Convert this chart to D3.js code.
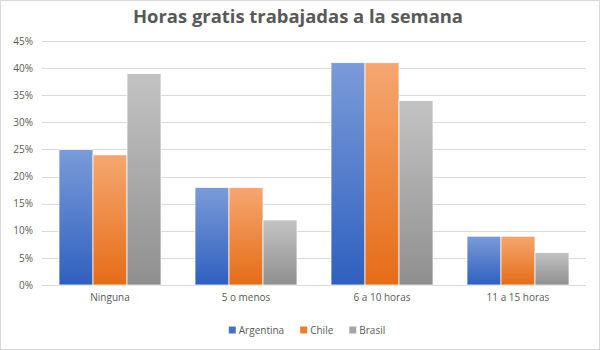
<!DOCTYPE html>
<html><head><meta charset="utf-8">
<script src="https://cdn.jsdelivr.net/npm/d3@7"></script>
<style>
html,body{margin:0;padding:0;background:#fff;}
svg{display:block;font-family:"Open Sans",sans-serif;}
</style></head>
<body>
<svg id="c" width="600" height="350"></svg>
<script>
const title = "Horas gratis trabajadas a la semana";
const categories = ["Ninguna", "5 o menos", "6 a 10 horas", "11 a 15 horas"];
const seriesNames = ["Argentina", "Chile", "Brasil"];
const argentina = [25, 18, 41, 9];
const chile = [24, 18, 41, 9];
const brasil = [39, 12, 34, 6];
const yTicks = [0, 5, 10, 15, 20, 25, 30, 35, 40, 45];

const seriesValues = [argentina, chile, brasil];
const gradTop = ["#7b9bd8", "#f5a771", "#c3c3c3"];
const gradBot = ["#2f60bf", "#e56c16", "#8f8f8f"];
const legendColor = ["#4472c4", "#ed7d31", "#a5a5a5"];

const svg = d3.select("#c");
const W = 600, H = 350;
const m = {left: 42, right: 14, top: 41, bottom: 65};

svg.append("rect").attr("x",0.5).attr("y",0.5).attr("width",W-1).attr("height",H-1)
  .attr("fill","#fff").attr("stroke","#d9d9d9");

const defs = svg.append("defs");
seriesNames.forEach((s,i)=>{
  const g = defs.append("linearGradient").attr("id","g"+i)
    .attr("x1",0).attr("y1",0).attr("x2",0).attr("y2",1);
  g.append("stop").attr("offset","0%").attr("stop-color",gradTop[i]);
  g.append("stop").attr("offset","100%").attr("stop-color",gradBot[i]);
});

const x0 = d3.scaleBand().domain(categories).range([m.left, W - m.right]).paddingInner(0.25).paddingOuter(0.125);
const x1 = d3.scaleBand().domain(seriesNames).range([0, x0.bandwidth()]);
const y = d3.scaleLinear().domain([0,45]).range([H - m.bottom, m.top]);

// gridlines
const grid = svg.append("g");
yTicks.forEach(t=>{
  grid.append("line").attr("x1",m.left).attr("x2",W-m.right)
    .attr("y1",Math.round(y(t))+0.5).attr("y2",Math.round(y(t))+0.5)
    .attr("stroke","#d9d9d9").attr("stroke-width",1);
});

// y axis labels
const yAxis = d3.axisLeft(y).tickValues(yTicks).tickFormat(d=>d+"%").tickSize(0).tickPadding(9);
const ya = svg.append("g").attr("transform",`translate(${m.left},0)`).call(yAxis);
ya.select(".domain").remove();
ya.selectAll("text").attr("fill","#595959").style("font-size","10px").style("font-family","'Open Sans',sans-serif");

// bars
const cg = svg.append("g").selectAll("g").data(categories).join("g")
  .attr("transform",d=>`translate(${x0(d)},0)`);
cg.selectAll("rect").data((d,ci)=>seriesNames.map((s,si)=>({s,si,v:seriesValues[si][ci]})))
  .join("rect")
  .attr("x",d=>x1(d.s)).attr("width",x1.bandwidth())
  .attr("y",d=>y(d.v)).attr("height",d=>y(0)-y(d.v))
  .attr("fill",d=>`url(#g${d.si})`)
  .attr("stroke","#fff").attr("stroke-width",0.75);

// x axis labels
const xAxis = d3.axisBottom(x0).tickSize(0).tickPadding(9);
const xa = svg.append("g").attr("transform",`translate(0,${y(0)})`).call(xAxis);
xa.select(".domain").remove();
xa.selectAll("text").attr("fill","#595959").style("font-size","10px").style("font-family","'Open Sans',sans-serif");

// title
svg.append("text").attr("x",298).attr("y",23).attr("text-anchor","middle")
  .attr("fill","#595959").style("font-size","18px").style("font-weight","bold")
  .attr("textLength",330).attr("lengthAdjust","spacingAndGlyphs")
  .text(title);

// legend
const lg = svg.append("g");
let cx = 0;
seriesNames.forEach((s,i)=>{
  const it = lg.append("g").attr("transform",`translate(${cx},0)`);
  it.append("rect").attr("x",0).attr("y",-4).attr("width",7).attr("height",7).attr("fill",legendColor[i]);
  const t = it.append("text").attr("x",10).attr("y",3.5).attr("fill","#595959")
    .style("font-size","10px").text(s);
  cx += 10 + t.node().getComputedTextLength() + 16;
});
const lw = cx - 16;
lg.attr("transform",`translate(${307 - lw/2},330.5)`);
</script>
</body></html>
